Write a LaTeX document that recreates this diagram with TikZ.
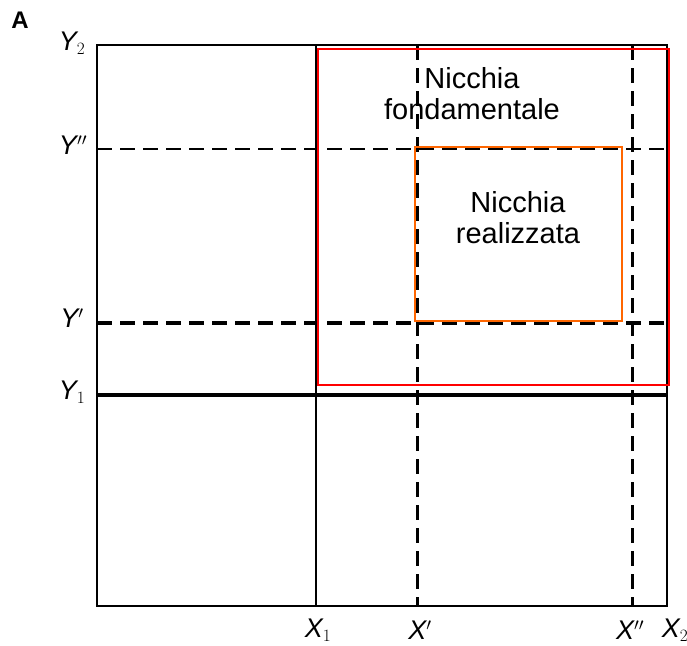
\documentclass[tikz,border=0pt]{standalone}
\usepackage{fontspec}
\setmainfont{Liberation Sans}
\begin{document}
\begin{tikzpicture}[x=1pt,y=-1pt,
  frame/.style={line width=2.6pt,black},
  axisdash/.style={line width=3pt,black,dash pattern=on 15pt off 8pt},
  lab/.style={font=\fontsize{27}{27}\selectfont\itshape},
  nich/.style={font=\fontsize{29}{31}\selectfont,align=center}]
\useasboundingbox (0,0) rectangle (687,645);
% frame
\coordinate (tl) at (97,45);
\coordinate (br) at (667,606);
\draw[frame] (tl) rectangle (br);
% solid X1 and Y1
\coordinate (x1t) at (316,45); \coordinate (x1b) at (316,606);
\coordinate (y1l) at (97,395); \coordinate (y1r) at (667,395);
\draw[frame] (x1t) -- (x1b);
\draw[line width=3.4pt] (y1l) -- (y1r);
% dashed
\coordinate (ypl) at (97,149); \coordinate (ypr) at (667,149);
\coordinate (ysl) at (97,323); \coordinate (ysr) at (667,323);
\coordinate (xpt) at (417,45); \coordinate (xpb) at (417,606);
\coordinate (xst) at (632,45); \coordinate (xsb) at (632,606);
\draw[axisdash,line width=2.6pt] (ypl) -- (ypr);
\draw[axisdash,line width=3.6pt] (ysl) -- (ysr);
\draw[axisdash] (xpt) -- (xpb);
\draw[axisdash] (xst) -- (xsb);
% niches
\draw[red,line width=2pt] (318,49) rectangle (669,385);
\draw[orange!80!red,line width=2pt] (415,147) rectangle (622,321);
\node[nich] (fund) at (472,94) {Nicchia\\fondamentale};
\node[nich] (real) at (518,218) {Nicchia\\realizzata};
% labels
\node[font=\fontsize{24}{24}\selectfont\bfseries] (A) at (20,20) {A};
\node[lab] (Y2) at (72,43) {Y$_{2}$};
\node[lab] (Ypp) at (73,145) {Y$''$};
\node[lab] (Yp) at (72,318) {Y$'$};
\node[lab] (Y1) at (72,392) {Y$_{1}$};
\node[lab] (X1) at (318,630) {X$_{1}$};
\node[lab] (Xp) at (420,630) {X$'$};
\node[lab] (Xpp) at (630,630) {X$''$};
\node[lab] (X2) at (675,630) {X$_{2}$};
\end{tikzpicture}
\end{document}
